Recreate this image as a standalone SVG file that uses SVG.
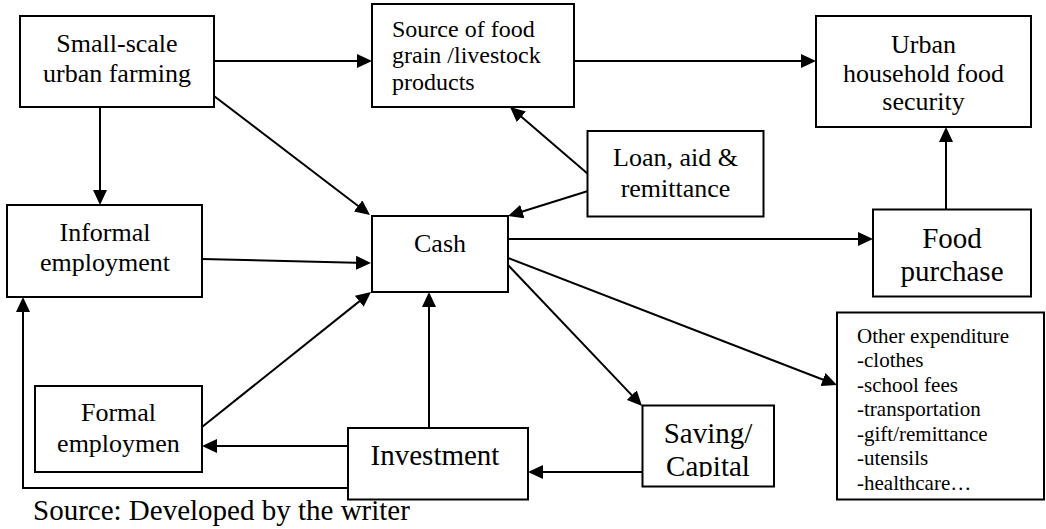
<svg xmlns="http://www.w3.org/2000/svg" width="1046" height="529" viewBox="0 0 1046 529">
<style>
.box{fill:#fff;stroke:#000;stroke-width:2}
.t{font-family:"Liberation Serif","Times New Roman",serif;fill:#000}
.c{text-anchor:middle}
.f26{font-size:26px}
.f24{font-size:24px}
.f29{font-size:29px}
.f21{font-size:21px}
.ln{fill:none;stroke:#000;stroke-width:2;marker-end:url(#ah)}
</style>
<defs>
<marker id="ah" markerUnits="userSpaceOnUse" markerWidth="15" markerHeight="14" refX="10" refY="7" orient="auto">
<path d="M0,0 L15,7 L0,14 z" fill="#000"/>
</marker>
<clipPath id="clipSaving"><rect x="643" y="406" width="130" height="71"/></clipPath>
</defs>
<rect width="1046" height="529" fill="#fff"/>

<g id="connectors">
<path class="ln" d="M214,61 L367,61"/>
<path class="ln" d="M574,61 L811,61"/>
<path class="ln" d="M100,107 L100,200"/>
<path class="ln" d="M214,96 L366,212"/>
<path class="ln" d="M588,174 L513.8,110.3"/>
<path class="ln" d="M588,191 L512.8,214.5"/>
<path class="ln" d="M202,259 L366,263"/>
<path class="ln" d="M202,427 L367.1,295.1"/>
<path class="ln" d="M429,428 L429,297"/>
<path class="ln" d="M348,446 L207,446"/>
<path class="ln" d="M643,472 L533,472"/>
<path class="ln" d="M508,265 L638.6,402.4"/>
<path class="ln" d="M508,258 L832.3,383.2"/>
<path class="ln" d="M508,239 L868,239"/>
<path class="ln" d="M946,209 L946,132"/>
<path class="ln" d="M348,488 L23,488 L23,302"/>
</g>

<g id="small-scale">
<rect class="box" x="20" y="16" width="194" height="91"/>
<text class="t c f26" x="117" y="52">Small-scale</text>
<text class="t c f26" x="117" y="82">urban farming</text>
</g>

<g id="source-food">
<rect class="box" x="372" y="4" width="202" height="103"/>
<text class="t f24" x="392" y="36.5">Source of food</text>
<text class="t f24" x="392" y="63">grain /livestock</text>
<text class="t f24" x="392" y="89.5">products</text>
</g>

<g id="urban-security">
<rect class="box" x="816" y="16" width="215" height="111"/>
<text class="t c f26" x="923.5" y="53">Urban</text>
<text class="t c f26" x="923.5" y="81.5">household food</text>
<text class="t c f26" x="923.5" y="110">security</text>
</g>

<g id="loan">
<rect class="box" x="587.5" y="131" width="176" height="85.5"/>
<text class="t c f26" x="675.5" y="165.5">Loan, aid &amp;</text>
<text class="t c f26" x="675.5" y="197">remittance</text>
</g>

<g id="informal">
<rect class="box" x="7" y="205" width="195" height="92"/>
<text class="t c f26" x="105" y="241">Informal</text>
<text class="t c f26" x="105" y="271">employment</text>
</g>

<g id="cash">
<rect class="box" x="372" y="216" width="136" height="76"/>
<text class="t c f26" x="440" y="252">Cash</text>
</g>

<g id="food-purchase">
<rect class="box" x="873" y="209.5" width="158" height="87"/>
<text class="t c f29" x="952" y="248">Food</text>
<text class="t c f29" x="952" y="281">purchase</text>
</g>

<g id="other-expenditure">
<rect class="box" x="837" y="312.5" width="207" height="187"/>
<text class="t f21" x="857" y="342.5">Other expenditure</text>
<text class="t f21" x="857" y="367">-clothes</text>
<text class="t f21" x="857" y="391.5">-school fees</text>
<text class="t f21" x="857" y="416">-transportation</text>
<text class="t f21" x="857" y="440.5">-gift/remittance</text>
<text class="t f21" x="857" y="465">-utensils</text>
<text class="t f21" x="857" y="489.5">-healthcare…</text>
</g>

<g id="formal">
<rect class="box" x="35" y="386" width="167" height="86"/>
<text class="t c f26" x="118.5" y="420.5">Formal</text>
<text class="t c f26" x="118.5" y="451.5">employmen</text>
</g>

<g id="investment">
<rect class="box" x="348" y="428" width="180" height="71.5"/>
<text class="t c f29" x="435" y="465">Investment</text>
</g>

<g id="saving">
<rect class="box" x="642.5" y="405.5" width="131.5" height="81"/>
<g clip-path="url(#clipSaving)">
<text class="t c f29" x="708" y="442.5">Saving/</text>
<text class="t c f29" x="708" y="476">Capital</text>
</g>
</g>

<text class="t f29" x="33" y="520">Source: Developed by the writer</text>
</svg>
